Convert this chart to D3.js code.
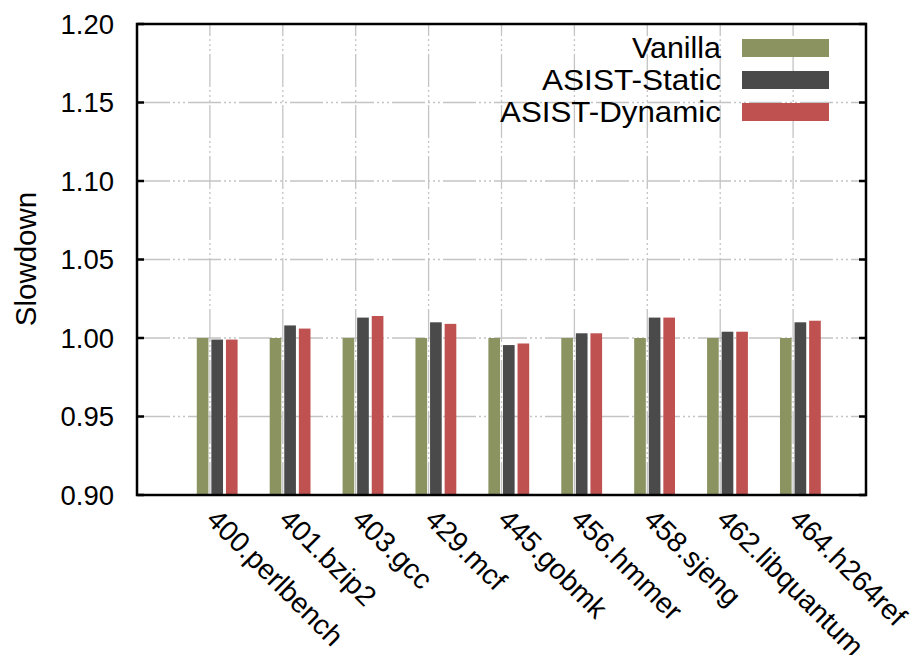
<!DOCTYPE html>
<html>
<head>
<meta charset="utf-8">
<script src="https://cdn.jsdelivr.net/npm/d3@7"></script>
<style>
  html, body { margin: 0; padding: 0; background: #fff; }
  text { font-family: "Liberation Sans", Arial, Helvetica, sans-serif; fill: #000; }
</style>
</head>
<body>
<svg id="chart" width="913" height="655"></svg>
<script>
const categories = ["400.perlbench","401.bzip2","403.gcc","429.mcf","445.gobmk","456.hmmer","458.sjeng","462.libquantum","464.h264ref"];
const seriesNames = ["Vanilla","ASIST-Static","ASIST-Dynamic"];
const vanilla = [1.000,1.000,1.000,1.000,1.000,1.000,1.000,1.000,1.000];
const asistStatic = [0.999,1.008,1.013,1.010,0.9955,1.003,1.013,1.004,1.010];
const asistDynamic = [0.999,1.006,1.014,1.009,0.9965,1.003,1.013,1.004,1.011];
const yTicks = [0.90,0.95,1.00,1.05,1.10,1.15,1.20];
const colors = ["#8b9461","#4a4a4a","#bf5150"];

const series = [vanilla, asistStatic, asistDynamic];

const svg = d3.select("#chart");
const pLeft = 137, pRight = 866, pTop = 24, pBottom = 495;

const x = d3.scaleLinear().domain([-1, categories.length]).range([pLeft, pRight]);
const y = d3.scaleLinear().domain([0.90, 1.20]).range([pBottom, pTop]);

const unit = x(1) - x(0);
const offsets = [-0.1, 0.1, 0.3];
const barW = 0.16;

// grid
const gridDash = "33,3,2,3,2,3,2,3";
svg.append("g").selectAll("line")
  .data(yTicks.filter(t => t > 0.90 && t < 1.20))
  .join("line")
  .attr("x1", pLeft).attr("x2", pRight)
  .attr("y1", d => y(d)).attr("y2", d => y(d))
  .attr("stroke", "#c4c4c4").attr("stroke-width", 1.3)
  .attr("stroke-dasharray", gridDash);
svg.append("g").selectAll("line")
  .data(categories.map((c, i) => i))
  .join("line")
  .attr("x1", d => x(d)).attr("x2", d => x(d))
  .attr("y1", pBottom).attr("y2", pTop)
  .attr("stroke", "#c4c4c4").attr("stroke-width", 1.3)
  .attr("stroke-dasharray", gridDash);

// bars
series.forEach((vals, s) => {
  svg.append("g").selectAll("rect")
    .data(vals)
    .join("rect")
    .attr("x", (d, i) => x(i + offsets[s] - barW / 2))
    .attr("width", barW * unit)
    .attr("y", d => y(d))
    .attr("height", d => y(0.90) - y(d))
    .attr("fill", colors[s]);
});

// y ticks (inward, mirrored)
svg.append("g").selectAll("line")
  .data(yTicks)
  .join("line")
  .attr("x1", pLeft).attr("x2", pLeft + 7)
  .attr("y1", d => y(d)).attr("y2", d => y(d))
  .attr("stroke", "#000").attr("stroke-width", 2.5);
svg.append("g").selectAll("line")
  .data(yTicks)
  .join("line")
  .attr("x1", pRight).attr("x2", pRight - 7)
  .attr("y1", d => y(d)).attr("y2", d => y(d))
  .attr("stroke", "#000").attr("stroke-width", 2.5);

// frame
svg.append("rect")
  .attr("x", pLeft).attr("y", pTop)
  .attr("width", pRight - pLeft).attr("height", pBottom - pTop)
  .attr("fill", "none").attr("stroke", "#000").attr("stroke-width", 2.5);

// y tick labels
svg.append("g").selectAll("text")
  .data(yTicks)
  .join("text")
  .attr("x", 114)
  .attr("y", d => y(d))
  .attr("dy", "0.36em")
  .attr("text-anchor", "end")
  .attr("font-size", 27.5)
  .text(d => d3.format(".2f")(d));

// y axis title
svg.append("text")
  .attr("transform", "translate(36,259) rotate(-90)")
  .attr("text-anchor", "middle")
  .attr("font-size", 29.5)
  .text("Slowdown");

// x labels
svg.append("g").selectAll("text")
  .data(categories)
  .join("text")
  .attr("transform", (d, i) => `translate(${x(i) - 5},521) rotate(45)`)
  .attr("text-anchor", "start")
  .attr("font-size", 28.3)
  .text(d => d);

// legend
const legendWidths = [89, 179, 221];
const lg = svg.append("g");
seriesNames.forEach((name, s) => {
  const cy = 48 + s * 32;
  lg.append("text")
    .attr("x", 721).attr("y", cy)
    .attr("dy", "0.36em")
    .attr("text-anchor", "end")
    .attr("font-size", 29)
    .attr("textLength", legendWidths[s])
    .attr("lengthAdjust", "spacingAndGlyphs")
    .text(name);
  lg.append("rect")
    .attr("x", 742).attr("y", cy - 9)
    .attr("width", 87).attr("height", 18)
    .attr("fill", colors[s]);
});
</script>
</body>
</html>
